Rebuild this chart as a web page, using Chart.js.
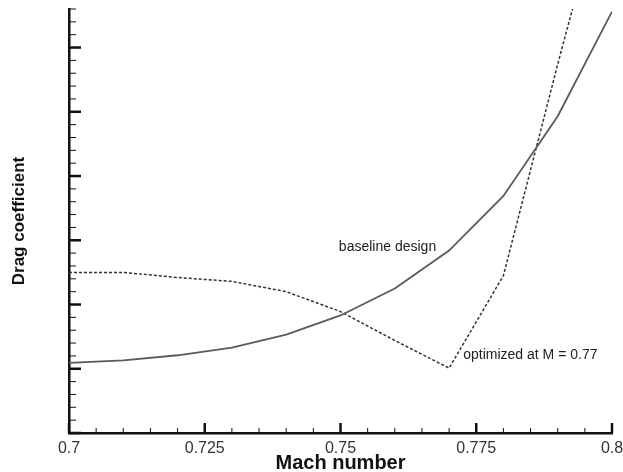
<!DOCTYPE html>
<html lang="en">
<head>
    <meta charset="UTF-8">
    <title>Drag coefficient vs Mach number</title>
    <script src="https://cdn.jsdelivr.net/npm/chart.js"></script>
    <style>
        html, body { margin: 0; padding: 0; background: #fff; }
        #wrap { width: 623px; height: 472px; }
    </style>
</head>
<body>
    <div id="wrap"><canvas id="dragChart"></canvas></div>

    <script>
        // Mach numbers where the drag was evaluated
        const mach = [0.70, 0.71, 0.72, 0.73, 0.74, 0.75, 0.76, 0.77, 0.78, 0.79, 0.80];
        // Drag coefficient (arbitrary units, one unit per major tick)
        const baseline = [1.09, 1.13, 1.21, 1.33, 1.53, 1.83, 2.25, 2.84, 3.69, 4.93, 6.56];
        const optimized = [2.50, 2.50, 2.42, 2.36, 2.20, 1.89, 1.44, 1.01, 2.45, 5.74, 8.90];
        // Labelled ticks on the Mach axis
        const machTicks = [0.7, 0.725, 0.75, 0.775, 0.8];

        const FONT = "'Liberation Sans', Arial, Helvetica, sans-serif";

        // Curve labels, placed in data coordinates
        const curveLabels = [
            { text: 'baseline design', x: 0.7497, y: 2.90 },
            { text: 'optimized at M = 0.77', x: 0.7726, y: 1.21 }
        ];

        // Tecplot-style ticks pointing into the plot, major and minor
        const inwardTicks = {
            id: 'inwardTicks',
            afterDatasetsDraw(chart) {
                const ctx = chart.ctx;
                const xs = chart.scales.x, ys = chart.scales.y;
                const area = chart.chartArea;
                ctx.save();
                ctx.strokeStyle = '#111';
                // x axis: minor every 0.005, major every 0.025
                for (let i = 0; i <= 20; i++) {
                    const v = 0.7 + i * 0.005;
                    const px = xs.getPixelForValue(v);
                    const major = i % 5 === 0;
                    ctx.lineWidth = major ? 2.5 : 1;
                    ctx.beginPath();
                    ctx.moveTo(px, area.bottom);
                    ctx.lineTo(px, area.bottom - (major ? 10 : 5));
                    ctx.stroke();
                }
                // y axis: minor every 0.2, major every 1
                for (let i = 0; i <= 33; i++) {
                    const v = i * 0.2;
                    const py = ys.getPixelForValue(v);
                    const major = i % 5 === 0;
                    ctx.lineWidth = major ? 2.5 : 1;
                    ctx.beginPath();
                    ctx.moveTo(area.left, py);
                    ctx.lineTo(area.left + (major ? 12 : 7), py);
                    ctx.stroke();
                }
                // curve labels
                ctx.fillStyle = '#222';
                ctx.font = '14px ' + FONT;
                ctx.textAlign = 'left';
                ctx.textBaseline = 'middle';
                curveLabels.forEach(l => {
                    ctx.fillText(l.text, xs.getPixelForValue(l.x), ys.getPixelForValue(l.y));
                });
                ctx.restore();
            }
        };

        const ctx = document.getElementById('dragChart').getContext('2d');
        const dragChart = new Chart(ctx, {
            type: 'line',
            data: {
                datasets: [
                    {
                        label: 'baseline design',
                        data: mach.map((m, i) => ({ x: m, y: baseline[i] })),
                        borderColor: '#5a5a5a',
                        borderWidth: 1.8,
                        pointRadius: 0,
                        tension: 0
                    },
                    {
                        label: 'optimized at M = 0.77',
                        data: mach.map((m, i) => ({ x: m, y: optimized[i] })),
                        borderColor: '#333',
                        borderWidth: 1.5,
                        borderDash: [3, 2],
                        pointRadius: 0,
                        tension: 0
                    }
                ]
            },
            options: {
                responsive: true,
                maintainAspectRatio: false,
                animation: false,
                layout: { padding: { left: 2, right: 0, top: 9, bottom: 0 } },
                plugins: {
                    legend: { display: false },
                    tooltip: { enabled: false }
                },
                scales: {
                    x: {
                        type: 'linear',
                        min: 0.7,
                        max: 0.8,
                        afterBuildTicks: scale => {
                            scale.ticks = machTicks.map(v => ({ value: v }));
                        },
                        // fixed band under the plot for labels and title
                        afterFit: scale => {
                            scale.height = 39;
                            scale.paddingLeft = 0;
                            scale.paddingRight = 11;
                        },
                        grid: { display: false, drawTicks: false },
                        border: { display: true, color: '#111', width: 2.5 },
                        ticks: {
                            padding: 6,
                            color: '#333',
                            maxRotation: 0,
                            font: { family: FONT, size: 16 },
                            callback: v => String(+v.toFixed(3))
                        },
                        title: {
                            display: true,
                            text: 'Mach number',
                            color: '#111',
                            padding: { top: 0, bottom: -3 },
                            font: { family: FONT, size: 20, weight: 'bold' }
                        }
                    },
                    y: {
                        min: 0,
                        max: 6.6,
                        afterFit: scale => {
                            scale.width = 67;
                        },
                        grid: { display: false, drawTicks: false },
                        border: { display: true, color: '#111', width: 2.5 },
                        ticks: { display: false },
                        title: {
                            display: true,
                            text: 'Drag coefficient',
                            color: '#111',
                            padding: { top: 9, bottom: 0 },
                            font: { family: FONT, size: 17, weight: 'bold', lineHeight: 1 }
                        }
                    }
                }
            },
            plugins: [inwardTicks]
        });
    </script>
</body>
</html>
